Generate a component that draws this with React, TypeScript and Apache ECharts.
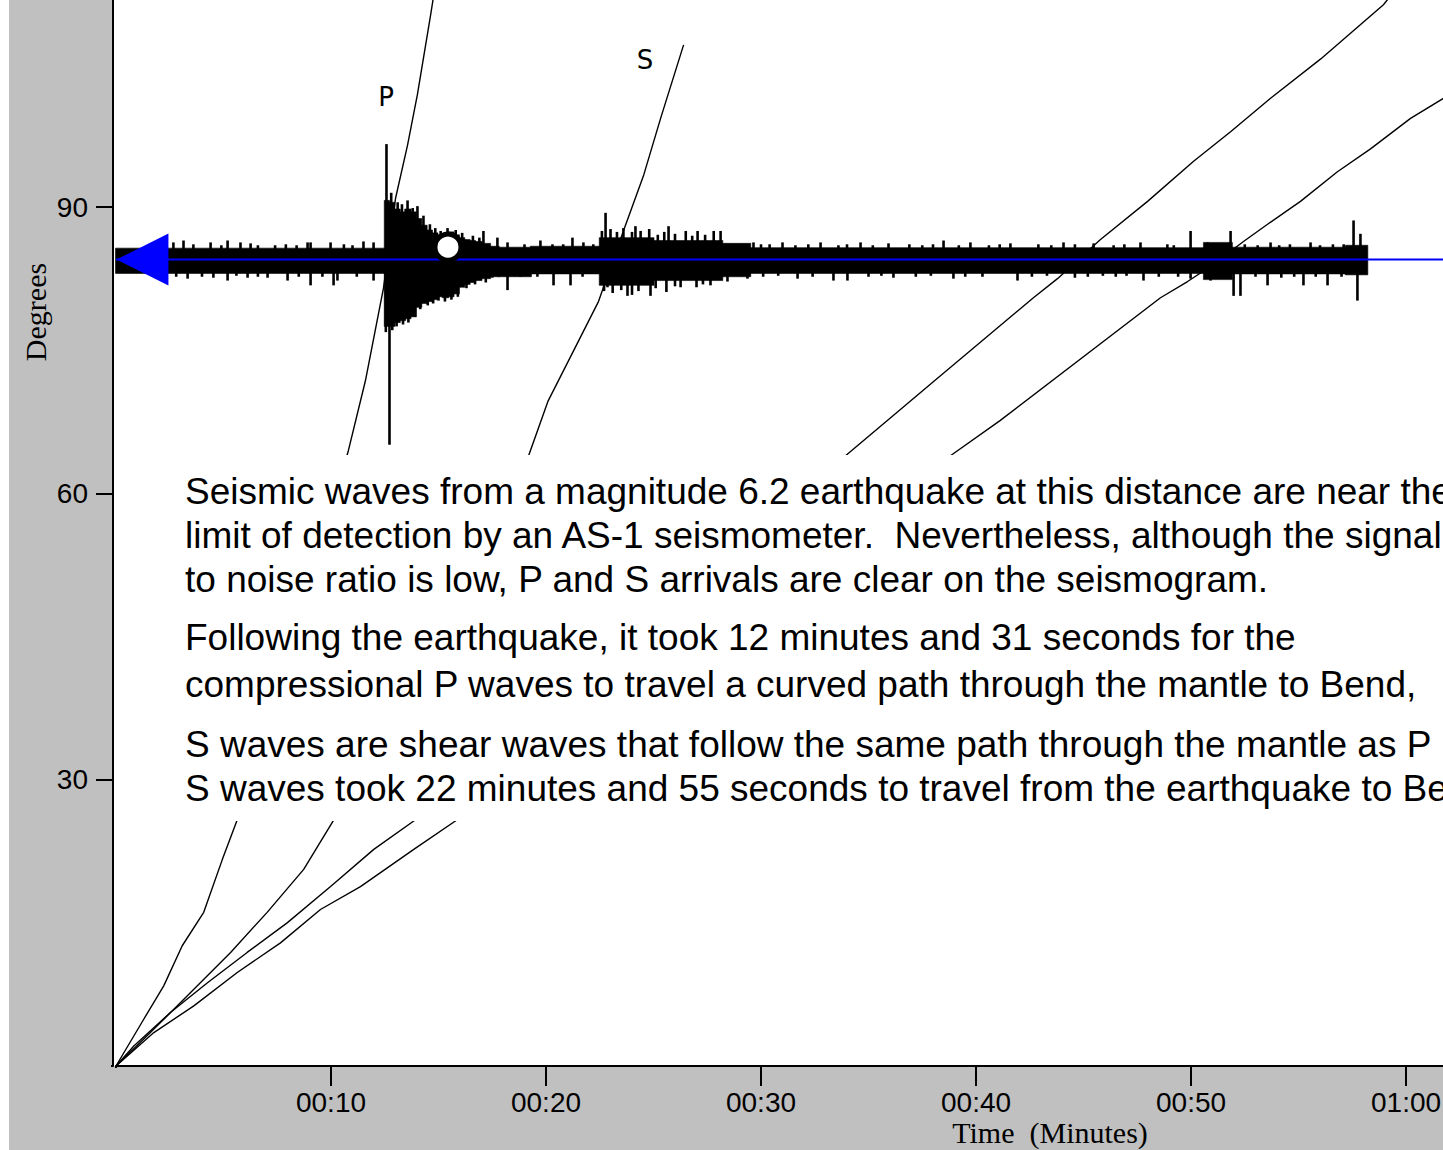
import React, { useEffect, useRef } from "react";
import * as echarts from "echarts";

// Epicentral distance of the recording station (degrees)
const TRACE_CENTER = 84.5;

// Axis ranges / ticks
const X_MAX = 61.72;
const Y_MAX = 111.7;
const X_INTERVAL = 10;
const Y_INTERVAL = 30;

// Travel-time curves: time (minutes) vs distance (degrees)
const pCurveT = [0, 1.29, 2.22, 3.08, 4.08, 4.94, 5.64, 8.3, 10.81, 11.6, 12.44, 13.0, 13.56, 14.02, 14.63, 14.8];
const pCurveD = [0, 4.9, 8.4, 12.6, 16.1, 21.6, 25.8, 45, 64.5, 71.8, 81.5, 90.9, 96.5, 101.8, 110.1, 112.5];

const sCurveT = [0, 1.6, 3.47, 5.33, 7.03, 8.73, 10.13, 15.0, 19.19, 20.1, 22.44, 23.6, 24.55, 25.33, 26.4];
const sCurveD = [0, 3.5, 7.7, 11.9, 16.1, 20.6, 25.8, 45, 63.95, 69.7, 80.1, 87.5, 93.4, 99.3, 107.0];

const aCurveT = [0, 0.83, 2.53, 4.24, 6.1, 7.96, 9.98, 11.99, 13.93, 24.0, 33.93, 38.07, 42.67, 43.79, 45.79, 47.98, 50.12, 51.84, 53.7, 56.02, 58.95, 59.3];
const aCurveD = [0, 2.1, 5.6, 8.7, 11.9, 15.0, 18.8, 22.7, 25.8, 45, 63.95, 71.8, 80.5, 82.5, 86.6, 90.6, 94.8, 97.9, 101.4, 105.5, 111.2, 112.2];

const bCurveT = [0, 1.76, 3.62, 5.64, 7.65, 9.51, 11.37, 13.85, 15.87, 27.0, 38.81, 41.1, 48.58, 49.84, 51.05, 52.44, 53.56, 55.09, 56.81, 58.35, 60.21, 61.74];
const bCurveD = [0, 3.5, 6.3, 9.8, 12.9, 16.4, 18.8, 22.7, 25.8, 45, 63.95, 67.6, 80.5, 82.2, 84.0, 86.4, 88.2, 90.6, 93.7, 96.1, 99.3, 101.4];

// Seismogram envelope (step segments starting at envT; amplitude in degrees above / below the trace)
const envT = [0, 12.5, 12.7, 12.95, 13.2, 13.45, 13.7, 13.95, 14.2, 14.45, 14.7, 14.95, 15.2, 15.45, 15.7, 15.95, 16.2, 16.45, 16.7, 17.0, 17.4, 17.8, 19.3, 22.5, 25.0, 28.2, 29.5, 50.6, 51.9, 57.2, 58.2];
const envUp = [1.2, 6.2, 6.0, 5.3, 5.0, 5.3, 5.0, 4.3, 3.6, 3.1, 2.8, 2.6, 2.4, 2.9, 2.6, 2.3, 2.1, 2.0, 1.9, 1.7, 1.4, 1.3, 1.4, 2.3, 2.0, 1.7, 1.25, 1.8, 1.3, 1.5];
const envDown = [1.45, 7.0, 7.0, 6.6, 6.4, 6.2, 6.0, 5.0, 4.6, 4.4, 4.2, 3.9, 4.0, 3.9, 3.6, 2.9, 2.6, 2.4, 2.2, 2.0, 1.8, 1.8, 1.5, 2.7, 2.2, 1.8, 1.45, 2.1, 1.5, 1.6];

// Individual spikes of the seismogram: [time (min), amplitude (deg)]
const upSpikes = [
  [2.67, 1.8], [3.14, 2.0], [3.6, 1.6], [4.4, 1.8], [4.9, 1.5], [5.19, 2.0], [5.79, 1.8], [6.26, 1.7], [6.6, 1.5], [7.4, 1.5],
  [7.9, 1.6], [8.4, 1.5], [8.91, 1.8], [9.05, 1.8], [9.98, 1.8], [10.6, 1.6], [11.0, 1.5], [11.51, 1.9], [11.98, 1.8],
  [12.58, 12.1], [12.8, 7.0], [13.1, 6.0], [13.3, 5.8], [13.56, 6.2], [13.8, 5.4], [14.02, 5.6], [14.3, 4.6], [14.6, 3.7],
  [14.85, 3.3], [15.1, 3.0], [15.42, 3.3], [15.8, 3.1], [16.1, 2.8], [16.6, 2.5], [16.9, 2.3], [17.09, 3.0], [17.74, 2.3],
  [18.21, 1.8], [19.0, 1.6], [19.74, 2.0], [20.3, 1.6], [20.8, 1.6], [21.23, 2.3], [21.74, 1.8], [22.2, 1.6],
  [22.6, 3.0], [22.77, 4.9], [23.0, 3.2], [23.3, 2.9], [23.6, 3.3], [24.0, 2.9], [24.16, 3.5], [24.4, 3.0], [24.8, 3.2],
  [25.2, 2.6], [25.5, 2.9], [25.7, 3.5], [26.0, 2.7], [26.5, 3.0], [26.8, 2.5], [27.05, 3.0], [27.4, 2.6], [27.8, 3.0], [28.12, 3.0],
  [29.65, 1.8], [30.0, 1.6], [30.4, 1.6], [31.0, 1.8], [31.6, 1.5], [32.2, 1.6], [32.77, 1.8], [33.6, 1.5], [34.0, 1.6],
  [34.63, 1.8], [35.2, 1.5], [35.93, 1.7], [36.9, 1.6], [37.5, 1.5], [38.0, 1.6], [38.49, 2.0], [39.2, 1.5], [39.74, 1.8],
  [40.6, 1.5], [41.1, 1.6], [41.6, 1.7], [42.9, 1.6], [43.5, 1.5], [44.07, 1.8], [44.6, 1.6], [45.47, 1.7], [46.4, 1.5],
  [46.9, 1.6], [47.65, 1.8], [48.9, 1.6], [49.2, 1.5], [49.98, 3.0], [50.77, 1.8], [51.84, 3.0], [52.5, 1.6], [53.1, 1.5],
  [53.7, 1.8], [54.1, 1.5], [54.6, 1.6], [55.56, 1.8], [56.0, 1.5], [56.6, 1.6], [57.1, 1.6], [57.56, 4.1], [57.88, 2.7],
];
const downSpikes = [
  [2.8, 1.8], [3.33, 2.0], [4.0, 1.8], [4.53, 1.9], [5.19, 2.2], [5.6, 1.7], [6.12, 1.9], [6.6, 1.8], [7.05, 1.9], [7.98, 2.2],
  [8.5, 1.8], [9.05, 2.7], [9.6, 1.8], [10.12, 2.7], [10.3, 2.2], [11.2, 1.8], [11.98, 2.2],
  [12.55, 7.6], [12.72, 19.4], [12.85, 7.4], [13.05, 7.0], [13.35, 6.8], [13.6, 6.6], [13.9, 6.0], [14.15, 5.2], [14.5, 4.8],
  [14.75, 4.6], [15.0, 4.3], [15.3, 4.4], [15.6, 4.2], [15.9, 3.9], [16.3, 3.0], [16.7, 2.6], [17.2, 2.4], [17.5, 1.9],
  [18.21, 3.2], [18.8, 1.8], [19.6, 1.8], [20.35, 2.7], [21.14, 2.7], [21.7, 1.8],
  [22.7, 3.3], [22.86, 2.9], [23.1, 3.5], [23.5, 3.2], [23.79, 3.8], [24.0, 3.7], [24.3, 3.3], [24.86, 3.8], [25.1, 3.0],
  [25.6, 3.4], [26.0, 2.8], [26.26, 2.9], [27.0, 2.9], [27.3, 2.6], [27.65, 2.7], [28.44, 2.3], [29.37, 2.0],
  [30.1, 1.8], [30.8, 1.7], [31.7, 2.0], [32.4, 1.8], [33.37, 2.2], [34.02, 2.2], [35.0, 1.8], [35.6, 1.7], [36.16, 1.9],
  [37.2, 1.8], [37.9, 1.7], [38.95, 2.0], [39.5, 1.8], [40.3, 1.8], [41.93, 2.2], [42.6, 1.8], [43.3, 1.7], [44.6, 1.9],
  [45.2, 1.8], [45.9, 1.7], [46.5, 1.8], [47.0, 1.7], [47.79, 2.2], [48.5, 1.8], [49.4, 1.8], [49.98, 2.0], [50.91, 2.2],
  [51.98, 3.8], [52.3, 3.8], [53.0, 1.8], [53.56, 2.7], [54.2, 1.9], [54.8, 1.8], [55.23, 2.7], [55.8, 1.8], [56.35, 2.7],
  [57.0, 1.8], [57.74, 4.3],
];

// Labels / markers
const phaseLabels = ["P", "S"];
const phaseLabelT = [12.56, 24.6];
const phaseLabelD = [101.5, 105.4];
const arrowPoint = [1.23, TRACE_CENTER];
const eventMarker = [15.44, 85.8];

const noteLines = [
  "Seismic waves from a magnitude 6.2 earthquake at this distance are near the",
  "limit of detection by an AS-1 seismometer.  Nevertheless, although the signal",
  "to noise ratio is low, P and S arrivals are clear on the seismogram.",
  "Following the earthquake, it took 12 minutes and 31 seconds for the",
  "compressional P waves to travel a curved path through the mantle to Bend,",
  "S waves are shear waves that follow the same path through the mantle as P",
  "S waves took 22 minutes and 55 seconds to travel from the earthquake to Be",
];
const noteLineY = [491, 535, 579, 637, 684, 744, 788];

const zip = (a: number[], b: number[]) => a.map((v, i) => [v, b[i]]);

const fmtTime = (v: number) => {
  if (v === 0) return "";
  const h = Math.floor(v / 60);
  const m = Math.round(v % 60);
  return `${String(h).padStart(2, "0")}:${String(m).padStart(2, "0")}`;
};

export default function App() {
  const ref = useRef<HTMLDivElement>(null);
  useEffect(() => {
    document.body.style.margin = "0";
    const chart = echarts.init(ref.current!, null, { renderer: "svg" });

    const envData = envT.slice(0, -1).map((t, i) => [t, envT[i + 1], envUp[i], envDown[i]]);
    const spikeData = [
      ...upSpikes.map(([t, v]) => [t, TRACE_CENTER + v, TRACE_CENTER]),
      ...downSpikes.map(([t, v]) => [t, TRACE_CENTER, TRACE_CENTER - v]),
    ];

    const curveStyle = { color: "#000", width: 1.4 };
    const curve = (name: string, t: number[], d: number[]) => ({
      name,
      type: "line",
      data: zip(t, d),
      symbol: "none",
      silent: true,
      lineStyle: curveStyle,
      z: 2,
      clip: true,
    });

    const graphic: any[] = [
      { type: "rect", z: -1, shape: { x: 0, y: 0, width: 9, height: 1150 }, style: { fill: "#fff" } },
      { type: "rect", z: -1, shape: { x: 113, y: 0, width: 4, height: 1066 }, style: { fill: "#fff" } },
      // hide the zero ticks at the origin corner (the reference has none there)
      { type: "rect", z: 50, shape: { x: 90, y: 1064, width: 21, height: 4 }, style: { fill: "#c0c0c0" } },
      { type: "rect", z: 50, shape: { x: 114, y: 1068, width: 4, height: 22 }, style: { fill: "#c0c0c0" } },
      { type: "rect", z: 100, shape: { x: 120, y: 455, width: 1330, height: 366 }, style: { fill: "#fff" } },
      ...noteLines.map((text, i) => ({
        type: "text",
        z: 101,
        x: 185,
        y: noteLineY[i],
        style: {
          text,
          fill: "#000",
          fontSize: 37,
          fontFamily: '"Liberation Sans", Arial, sans-serif',
          verticalAlign: "middle",
          align: "left",
        },
      })),
      {
        type: "text",
        z: 101,
        x: 35,
        y: 312,
        rotation: Math.PI / 2,
        style: {
          text: "Degrees",
          fill: "#000",
          fontSize: 30,
          fontFamily: '"Liberation Serif", "Times New Roman", serif',
          align: "center",
          verticalAlign: "middle",
        },
      },
      {
        type: "text",
        z: 101,
        x: 1050,
        y: 1132,
        style: {
          text: "Time  (Minutes)",
          fill: "#000",
          fontSize: 30,
          fontFamily: '"Liberation Serif", "Times New Roman", serif',
          align: "center",
          verticalAlign: "middle",
        },
      },
    ];

    chart.setOption({
      animation: false,
      backgroundColor: "#c0c0c0",
      grid: {
        left: 116,
        right: 0,
        top: 0,
        bottom: 84,
        show: true,
        backgroundColor: "#fff",
        borderWidth: 0,
        containLabel: false,
        outerBoundsMode: "none",
      },
      xAxis: {
        type: "value",
        min: 0,
        max: X_MAX,
        interval: X_INTERVAL,
        axisLine: { show: true, onZero: false, lineStyle: { color: "#000", width: 2 } },
        axisTick: { show: true, length: 20, lineStyle: { color: "#000", width: 2 } },
        axisLabel: {
          formatter: fmtTime,
          margin: 22,
          fontSize: 28,
          color: "#000",
          showMaxLabel: false,
          fontFamily: '"Liberation Sans", Arial, sans-serif',
        },
        splitLine: { show: false },
      },
      yAxis: {
        type: "value",
        min: 0,
        max: Y_MAX,
        interval: Y_INTERVAL,
        offset: 3,
        axisLine: { show: true, onZero: false, lineStyle: { color: "#000", width: 2 } },
        axisTick: { show: true, length: 17, lineStyle: { color: "#000", width: 2 } },
        axisLabel: {
          formatter: (v: number) => (v === 0 ? "" : String(v)),
          margin: 25,
          fontSize: 28,
          color: "#000",
          showMaxLabel: false,
          fontFamily: '"Liberation Sans", Arial, sans-serif',
        },
        splitLine: { show: false },
      },
      graphic,
      series: [
        curve("P", pCurveT, pCurveD),
        curve("S", sCurveT, sCurveD),
        curve("Surface 1", aCurveT, aCurveD),
        curve("Surface 2", bCurveT, bCurveD),
        {
          name: "envelope",
          type: "custom",
          z: 3,
          silent: true,
          data: envData,
          renderItem: (_p: any, api: any) => {
            const a = api.coord([api.value(0), TRACE_CENTER + api.value(2)]);
            const b = api.coord([api.value(1), TRACE_CENTER - api.value(3)]);
            return {
              type: "rect",
              shape: { x: a[0] - 0.5, y: a[1], width: b[0] - a[0] + 1, height: b[1] - a[1] },
              style: { fill: "#000", stroke: "#000", lineWidth: 0.6 },
            };
          },
        },
        {
          name: "spikes",
          type: "custom",
          z: 3,
          silent: true,
          data: spikeData,
          renderItem: (_p: any, api: any) => {
            const a = api.coord([api.value(0), api.value(1)]);
            const b = api.coord([api.value(0), api.value(2)]);
            return {
              type: "rect",
              shape: { x: a[0] - 1.3, y: a[1], width: 2.6, height: b[1] - a[1] },
              style: { fill: "#000" },
            };
          },
        },
        {
          name: "baseline",
          type: "line",
          data: [
            [0, TRACE_CENTER],
            [X_MAX, TRACE_CENTER],
          ],
          symbol: "none",
          silent: true,
          lineStyle: { color: "#0000ff", width: 2 },
          z: 4,
        },
        {
          name: "arrow",
          type: "scatter",
          data: [arrowPoint],
          symbol: "triangle",
          symbolRotate: 90,
          symbolSize: [52, 52],
          itemStyle: { color: "#0000ff", opacity: 1 },
          silent: true,
          z: 5,
        },
        {
          name: "marker",
          type: "scatter",
          data: [eventMarker],
          symbol: "circle",
          symbolSize: 26,
          itemStyle: { color: "#ffffff", borderColor: "#000000", borderWidth: 5, opacity: 1 },
          silent: true,
          z: 5,
        },
        {
          name: "phases",
          type: "scatter",
          data: phaseLabels.map((n, i) => ({ value: [phaseLabelT[i], phaseLabelD[i]], name: n })),
          symbolSize: 0,
          silent: true,
          z: 5,
          itemStyle: { opacity: 1 },
          label: {
            show: true,
            position: "inside",
            formatter: (p: any) => p.name,
            fontSize: 26,
            color: "#000",
            textBorderWidth: 0,
            fontFamily: '"DejaVu Sans", sans-serif',
          },
        },
      ],
    });
    return () => chart.dispose();
  }, []);
  return <div ref={ref} style={{ width: 1443, height: 1150 }} />;
}
